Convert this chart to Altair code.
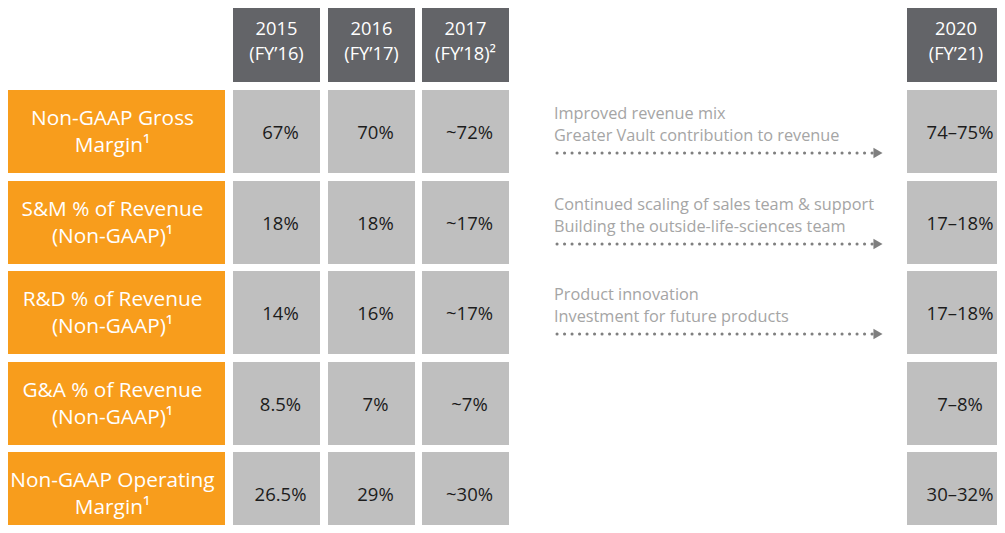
import altair as alt
import pandas as pd

# ---------------- data ----------------
metric_lines = [
    ["Non-GAAP Gross", "Margin¹"],
    ["S&M % of Revenue", "(Non-GAAP)¹"],
    ["R&D % of Revenue", "(Non-GAAP)¹"],
    ["G&A % of Revenue", "(Non-GAAP)¹"],
    ["Non-GAAP Operating", "Margin¹"],
]
year_labels = ["2015", "2016", "2017"]
fy_labels = ["(FY’16)", "(FY’17)", "(FY’18)²"]
target_year = "2020"
target_fy = "(FY’21)"
values_2015 = ["67%", "18%", "14%", "8.5%", "26.5%"]
values_2016 = ["70%", "18%", "16%", "7%", "29%"]
values_2017 = ["~72%", "~17%", "~17%", "~7%", "~30%"]
target_2020 = ["74–75%", "17–18%", "17–18%", "7–8%", "30–32%"]
drivers = [
    ["Improved revenue mix", "Greater Vault contribution to revenue"],
    ["Continued scaling of sales team & support", "Building the outside-life-sciences team"],
    ["Product innovation", "Investment for future products"],
    [],
    [],
]

# ---------------- layout (reference pixel grid) ----------------
LABEL_X0, LABEL_X1 = 0, 225
YEAR_X0 = [233, 328, 422]
YEAR_W = 87
TGT_X0, TGT_X1 = 907, 1005
HEAD_Y0, HEAD_Y1 = 1, 82
ROW_Y0 = [90, 181, 271, 362, 452]
ROW_H = 83
NOTE_X = 554
ARROW_X0, ARROW_X1, ARROW_HEAD_X = 557, 874, 878

ORANGE = "#F89D1C"
DARK = "#636468"
CELL = "#BFBFBF"
NOTE_C = "#A5A5A5"
ARROW_C = "#7F7F7F"
FONT = "Open Sans"

rects, texts, arrows = [], [], []

# header
for i, (yl, fl) in enumerate(zip(year_labels, fy_labels)):
    x0 = YEAR_X0[i]
    rects.append(dict(x=x0, x2=x0 + YEAR_W, y=HEAD_Y0, y2=HEAD_Y1, c=DARK))
    cx = x0 + YEAR_W / 2
    texts.append(dict(x=cx, y=30, t=yl, kind="head"))
    texts.append(dict(x=cx, y=55, t=fl, kind="head"))
rects.append(dict(x=TGT_X0, x2=TGT_X1, y=HEAD_Y0, y2=HEAD_Y1, c=DARK))
tcx = (TGT_X0 + TGT_X1) / 2
texts.append(dict(x=tcx, y=30, t=target_year, kind="head"))
texts.append(dict(x=tcx, y=55, t=target_fy, kind="head"))

cols = [values_2015, values_2016, values_2017]
for r in range(5):
    y0 = ROW_Y0[r]
    y1 = y0 + ROW_H
    cy = (y0 + y1) / 2
    rects.append(dict(x=LABEL_X0, x2=LABEL_X1, y=y0, y2=y1, c=ORANGE))
    l1, l2 = metric_lines[r]
    lx = (LABEL_X0 + LABEL_X1) / 2
    texts.append(dict(x=lx, y=cy - 13, t=l1, kind="label"))
    texts.append(dict(x=lx, y=cy + 14, t=l2, kind="label"))
    for i in range(3):
        x0 = YEAR_X0[i]
        rects.append(dict(x=x0, x2=x0 + YEAR_W, y=y0, y2=y1, c=CELL))
        texts.append(dict(x=x0 + YEAR_W / 2 + 4, y=cy + 1, t=cols[i][r], kind="val"))
    rects.append(dict(x=TGT_X0, x2=TGT_X1, y=y0, y2=y1, c=CELL))
    texts.append(dict(x=tcx + 4, y=cy + 1, t=target_2020[r], kind="val"))
    if drivers[r]:
        texts.append(dict(x=NOTE_X, y=y0 + 24, t=drivers[r][0], kind="note"))
        texts.append(dict(x=NOTE_X, y=y0 + 46, t=drivers[r][1], kind="note"))
        arrows.append(dict(x=ARROW_X0, x2=ARROW_X1, xh=ARROW_HEAD_X, y=y0 + 63))

rect_df = pd.DataFrame(rects)
text_df = pd.DataFrame(texts)
arrow_df = pd.DataFrame(arrows)

xs = alt.Scale(domain=[8, 997], nice=False, zero=False)
ys = alt.Scale(domain=[8, 525], nice=False, zero=False, reverse=True)

rect_layer = alt.Chart(rect_df).mark_rect(clip=True).encode(
    x=alt.X("x:Q", scale=xs, axis=None),
    x2="x2:Q",
    y=alt.Y("y:Q", scale=ys, axis=None),
    y2="y2:Q",
    color=alt.Color("c:N", scale=None),
)


def text_layer(kind, **kw):
    return alt.Chart(text_df).transform_filter(alt.datum.kind == kind).mark_text(
        font=FONT, baseline="middle", **kw
    ).encode(
        x=alt.X("x:Q", scale=xs, axis=None),
        y=alt.Y("y:Q", scale=ys, axis=None),
        text="t:N",
    )


head_layer = text_layer("head", fontSize=18.3, color="white", align="center")
label_layer = text_layer("label", fontSize=20.8, color="white", align="center")
val_layer = text_layer("val", fontSize=18.5, color="#1C1C1C", align="center")
note_layer = text_layer("note", fontSize=16.3, color=NOTE_C, align="left")

dots = alt.Chart(arrow_df).mark_rule(
    color=ARROW_C, strokeWidth=3, strokeDash=[0.1, 7.4], strokeCap="round"
).encode(
    x=alt.X("x:Q", scale=xs, axis=None),
    x2="x2:Q",
    y=alt.Y("y:Q", scale=ys, axis=None),
)
heads = alt.Chart(arrow_df).mark_point(
    shape="triangle-right", filled=True, color=ARROW_C, size=110, opacity=1
).encode(
    x=alt.X("xh:Q", scale=xs, axis=None),
    y=alt.Y("y:Q", scale=ys, axis=None),
)

chart = alt.layer(
    rect_layer, head_layer, label_layer, val_layer, note_layer, dots, heads
).properties(
    width=989, height=517, padding=0, background="white"
).configure_view(strokeWidth=0)

chart.save("out.html", embed_options={"renderer": "svg", "actions": False})
